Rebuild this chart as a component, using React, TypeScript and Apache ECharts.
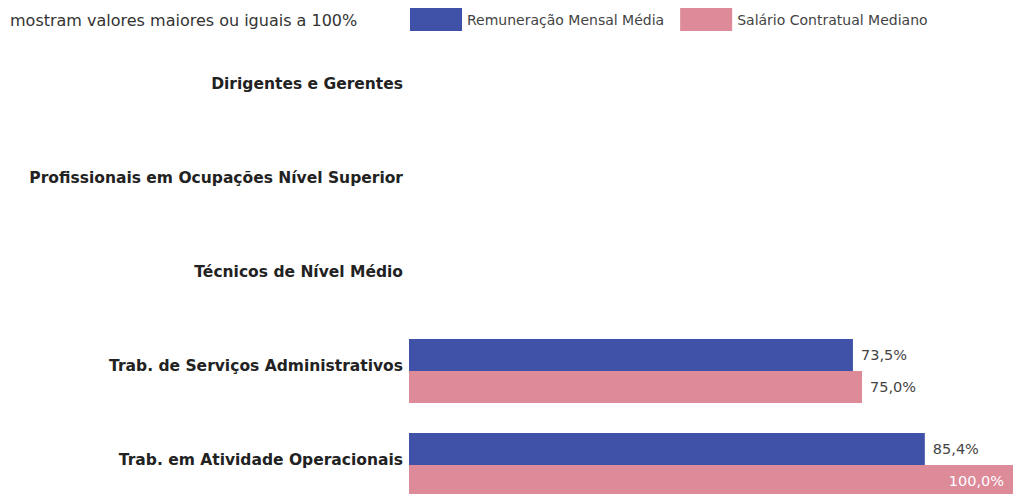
import React, { useEffect, useRef } from "react";
import * as echarts from "echarts";

const categories = [
  "Dirigentes e Gerentes",
  "Profissionais em Ocupações Nível Superior",
  "Técnicos de Nível Médio",
  "Trab. de Serviços Administrativos",
  "Trab. em Atividade Operacionais",
];
const seriesNames = ["Remuneração Mensal Média", "Salário Contratual Mediano"];
const remuneracao: (number | null)[] = [null, null, null, 73.5, 85.4];
const salario: (number | null)[] = [null, null, null, 75.0, 100.0];
const noteText = "mostram valores maiores ou iguais a 100%";

const fmt = (v: number) => v.toFixed(1).replace(".", ",") + "%";

export default function App() {
  const ref = useRef<HTMLDivElement>(null);
  useEffect(() => {
    if (!ref.current) return;
    const chart = echarts.init(ref.current, undefined, { renderer: "svg" });
    const outsideLabel = {
      show: true,
      position: "right" as const,
      distance: 8,
      color: "#444",
      fontFamily: "DejaVu Sans",
      fontSize: 14.5,
      formatter: (p: any) => fmt(p.value),
    };
    const mkData = (arr: (number | null)[]) =>
      arr.map((v) =>
        v !== null && v >= 100
          ? {
              value: v,
              label: {
                show: true,
                position: "insideRight",
                distance: 9,
                color: "#fff",
                fontFamily: "DejaVu Sans",
                fontSize: 14.5,
                formatter: (p: any) => fmt(p.value),
              },
            }
          : v
      );
    chart.setOption({
      animation: false,
      graphic: [
        {
          type: "text",
          left: 10,
          top: 12,
          style: {
            text: noteText,
            fontFamily: "DejaVu Sans",
            fontSize: 16,
            fill: "#333",
          },
        },
      ],
      legend: {
        data: seriesNames,
        left: 405,
        top: 3,
        itemWidth: 52,
        itemHeight: 23,
        itemGap: 16,
        icon: "rect",
        textStyle: { fontFamily: "DejaVu Sans", fontSize: 14, color: "#444" },
      },
      grid: { left: 409, right: 5, top: 42, height: 470, outerBoundsMode: "none" },
      xAxis: {
        type: "value",
        min: 0,
        max: 100,
        show: false,
      },
      yAxis: {
        type: "category",
        data: categories,
        inverse: true,
        axisLine: { show: false },
        axisTick: { show: false },
        axisLabel: {
          margin: 6,
          fontFamily: "DejaVu Sans",
          fontWeight: "bold",
          fontSize: 15.5,
          color: "#222",
          verticalAlign: "bottom",
          lineHeight: 10,
        },
      },
      series: [
        {
          name: seriesNames[0],
          type: "bar",
          data: mkData(remuneracao),
          barWidth: 32,
          barGap: "0%",
          itemStyle: { color: "#3F52A8" },
          label: outsideLabel,
        },
        {
          name: seriesNames[1],
          type: "bar",
          data: mkData(salario),
          barWidth: 32,
          barGap: "0%",
          itemStyle: { color: "#DD8A99" },
          label: outsideLabel,
        },
      ],
    });
    return () => chart.dispose();
  }, []);
  return (
    <div
      ref={ref}
      style={{ position: "fixed", left: 0, top: 0, width: 1018, height: 540, background: "#fff" }}
    />
  );
}
